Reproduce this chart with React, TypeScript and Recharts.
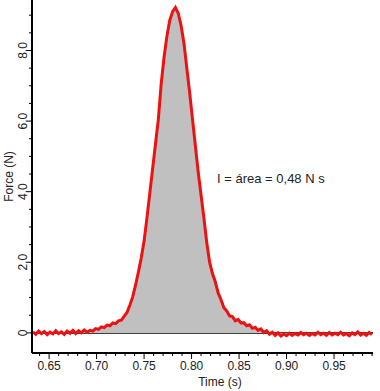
import { AreaChart, Area, XAxis, YAxis, ReferenceLine, ReferenceDot } from 'recharts'

const time = [
  0.633, 0.636, 0.639, 0.642, 0.645, 0.648, 0.651, 0.654, 0.657, 0.66, 0.663, 0.666, 0.669, 0.672, 0.675, 0.678,
  0.681, 0.684, 0.687, 0.69, 0.693, 0.696, 0.699, 0.702, 0.705, 0.708, 0.711, 0.714, 0.717, 0.72, 0.723, 0.726,
  0.729, 0.732, 0.735, 0.738, 0.741, 0.744, 0.747, 0.75, 0.753, 0.756, 0.759, 0.762, 0.765, 0.768, 0.771, 0.774,
  0.777, 0.78, 0.783, 0.786, 0.789, 0.792, 0.795, 0.798, 0.801, 0.804, 0.807, 0.81, 0.813, 0.816, 0.819, 0.822,
  0.825, 0.828, 0.831, 0.834, 0.837, 0.84, 0.843, 0.846, 0.849, 0.852, 0.855, 0.858, 0.861, 0.864, 0.867, 0.87,
  0.873, 0.876, 0.879, 0.882, 0.885, 0.888, 0.891, 0.894, 0.897, 0.9, 0.903, 0.906, 0.909, 0.912, 0.915, 0.918,
  0.921, 0.924, 0.927, 0.93, 0.933, 0.936, 0.939, 0.942, 0.945, 0.948, 0.951, 0.954, 0.957, 0.96, 0.963, 0.966,
  0.969, 0.972, 0.975, 0.978, 0.981, 0.984, 0.987, 0.99,
]
const force = [
  0.03, -0.04, 0.05, -0.02, 0.04, -0.05, 0.02, -0.03, 0.06, -0.02, 0.03, -0.04, 0.05, -0.01, 0.07, -0.02,
  0.06, 0.0, 0.08, 0.02, 0.07, 0.05, 0.12, 0.1, 0.17, 0.15, 0.22, 0.2, 0.28, 0.26, 0.34, 0.36,
  0.47, 0.58, 0.78, 1.02, 1.35, 1.72, 2.12, 2.6, 3.25, 3.95, 4.65, 5.35, 6.05, 7.05, 7.8, 8.4,
  8.85, 9.1, 9.22, 9.05, 8.7, 8.2, 7.5, 6.8, 6.05, 5.3, 4.55, 3.9, 3.25, 2.55, 2.0, 1.68,
  1.44, 1.13, 0.94, 0.71, 0.62, 0.48, 0.46, 0.34, 0.38, 0.28, 0.29, 0.2, 0.23, 0.13, 0.16, 0.07,
  0.11, 0.01, 0.06, -0.04, 0.02, -0.07, 0.0, -0.09, -0.03, -0.08, -0.01, -0.07, -0.02, -0.06, 0.01, -0.05,
  -0.01, -0.07, -0.02, -0.06, 0.02, -0.05, -0.01, -0.07, 0.01, -0.06, -0.01, -0.05, 0.02, -0.06, -0.02, -0.08,
  0.0, -0.05, 0.03, -0.06, -0.01, -0.07, 0.01, -0.05,
]
const xTicks = [
  0.64, 0.65, 0.66, 0.67, 0.68, 0.69, 0.7, 0.71, 0.72, 0.73, 0.74, 0.75, 0.76, 0.77, 0.78, 0.79, 0.8, 0.81,
  0.82, 0.83, 0.84, 0.85, 0.86, 0.87, 0.88, 0.89, 0.9, 0.91, 0.92, 0.93, 0.94, 0.95, 0.96, 0.97, 0.98, 0.99,
]
const yTicks = [0, 0.5, 1, 1.5, 2, 2.5, 3, 3.5, 4, 4.5, 5, 5.5, 6, 6.5, 7, 7.5, 8, 8.5, 9]
const note = 'I = área = 0,48 N s'

const data = time.map((t, i) => ({ t, f: force[i] }))
const font = '"Liberation Sans", Arial, sans-serif'
const ink = '#222'

const isMajorX = (v: number) => Math.abs(v * 20 - Math.round(v * 20)) < 1e-6
const isMajorY = (v: number) => Math.abs(v / 2 - Math.round(v / 2)) < 1e-6

function XTick({ x, y, payload }: any) {
  const major = isMajorX(payload.value)
  return (
    <g>
      <line x1={x} x2={x} y1={y} y2={y + (major ? 6 : 3)} stroke="#000" />
      {major && (
        <text x={x} y={y + 17} textAnchor="middle" fontSize={12} fontFamily={font} fill={ink}>
          {payload.value.toFixed(2)}
        </text>
      )}
    </g>
  )
}

function YTick({ x, y, payload }: any) {
  const major = isMajorY(payload.value)
  const v = payload.value
  return (
    <g>
      <line x1={x - (major ? 5 : 3)} x2={x} y1={y} y2={y} stroke="#000" />
      {major && (
        <text x={x - 5} y={y} transform={`rotate(-90 ${x - 5} ${y})`} textAnchor="middle" fontSize={12} fontFamily={font} fill={ink}>
          {v === 0 ? '0' : v.toFixed(1)}
        </text>
      )}
    </g>
  )
}

export default function App() {
  return (
    <div style={{ position: 'absolute', left: 0, top: 0 }}>
      <AreaChart width={380} height={391} data={data} margin={{ top: 0, right: 7, left: 0, bottom: 0 }}>
        <XAxis
          dataKey="t"
          type="number"
          domain={[0.632, 0.991]}
          allowDataOverflow
          ticks={xTicks}
          interval={0}
          height={38}
          tickSize={0}
          tickMargin={0}
          tickLine={false}
          axisLine={{ stroke: '#000', strokeWidth: 2 }}
          tick={<XTick />}
          label={({ viewBox }: any) => (
            <text x={viewBox.x + 188} y={viewBox.y + 33} textAnchor="middle" fontSize={12} fontFamily={font} fill={ink}>
              Time (s)
            </text>
          )}
        />
        <YAxis
          type="number"
          domain={[-0.57, 9.43]}
          allowDataOverflow
          ticks={yTicks}
          interval={0}
          width={32}
          tickSize={0}
          tickMargin={0}
          tickLine={false}
          axisLine={{ stroke: '#000', strokeWidth: 2 }}
          tick={<YTick />}
          label={({ viewBox }: any) => {
            const cx = viewBox.x + 13
            const cy = viewBox.y + viewBox.height / 2
            return (
              <text x={cx} y={cy} transform={`rotate(-90 ${cx} ${cy})`} textAnchor="middle" fontSize={12} fontFamily={font} fill={ink}>
                Force (N)
              </text>
            )
          }}
        />
        <ReferenceLine y={0} stroke="#000" strokeWidth={1.5} zIndex={50} />
        <Area
          type="linear"
          dataKey="f"
          baseValue={0}
          stroke="#ee1111"
          strokeWidth={3}
          fill="#c0c0c0"
          fillOpacity={1}
          dot={false}
          activeDot={false}
          isAnimationActive={false}
        />
        <ReferenceDot
          x={0.8268}
          y={4.38}
          r={0}
          stroke="none"
          fill="none"
          label={({ viewBox }: any) => (
            <text x={viewBox.x} y={viewBox.y + 5} textAnchor="start" fontSize={13} fontFamily={font} fill={ink}>
              {note}
            </text>
          )}
        />
      </AreaChart>
    </div>
  )
}
